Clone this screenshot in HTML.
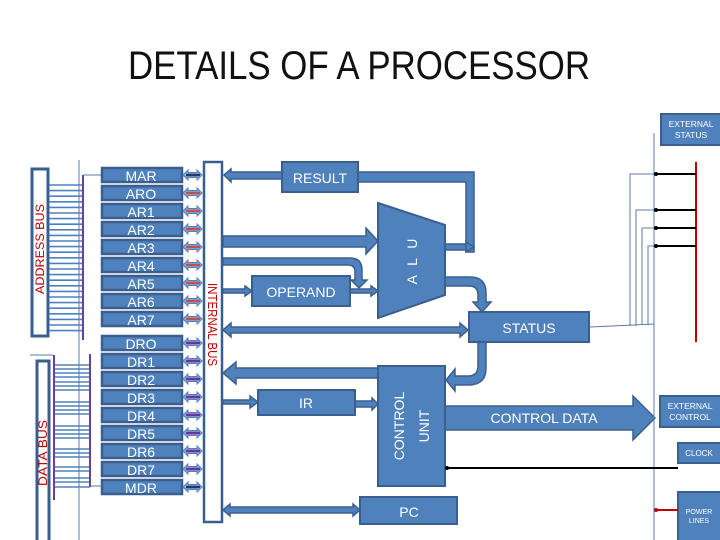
<!DOCTYPE html>
<html><head><meta charset="utf-8"><style>
html,body{margin:0;padding:0;background:#fff;}
svg{display:block;}
text{font-family:"Liberation Sans",sans-serif;}
</style></head><body>
<svg width="720" height="540" viewBox="0 0 720 540" xmlns="http://www.w3.org/2000/svg">
<defs>
<g id="dbl">
<polygon points="0,0 5,-5 5,-2.5 14,-2.5 14,-5 19,0 14,5 14,2.5 5,2.5 5,5" fill="#8FA9D0" stroke="#4F81BD" stroke-width="1"/>
</g>
</defs>
<rect width="720" height="540" fill="#fff"/>
<text x="128" y="79" font-size="40" fill="#111" textLength="462" lengthAdjust="spacingAndGlyphs">DETAILS OF A PROCESSOR</text>

<!-- thin vertical line left -->
<line x1="79" y1="160" x2="79" y2="540" stroke="#5A7CA8" stroke-width="1"/>

<!-- ADDRESS BUS -->
<rect x="32" y="169" width="16" height="167" fill="#fff" stroke="#3A5F8E" stroke-width="3"/>
<text transform="translate(44,294) rotate(-90)" font-size="12" fill="#C00000" textLength="90" lengthAdjust="spacingAndGlyphs">ADDRESS BUS</text>
<g stroke="#4F81BD" stroke-width="1.6">
<line x1="49" y1="185" x2="83" y2="185"/><line x1="49" y1="190.6" x2="83" y2="190.6"/><line x1="49" y1="196.2" x2="83" y2="196.2"/><line x1="49" y1="201.8" x2="83" y2="201.8"/><line x1="49" y1="207.4" x2="83" y2="207.4"/><line x1="49" y1="213" x2="83" y2="213"/><line x1="49" y1="218.6" x2="83" y2="218.6"/><line x1="49" y1="224.2" x2="83" y2="224.2"/><line x1="49" y1="229.8" x2="83" y2="229.8"/><line x1="49" y1="235.4" x2="83" y2="235.4"/><line x1="49" y1="241" x2="83" y2="241"/><line x1="49" y1="246.6" x2="83" y2="246.6"/><line x1="49" y1="252.2" x2="83" y2="252.2"/><line x1="49" y1="257.8" x2="83" y2="257.8"/><line x1="49" y1="263.4" x2="83" y2="263.4"/><line x1="49" y1="269" x2="83" y2="269"/><line x1="49" y1="274.6" x2="83" y2="274.6"/><line x1="49" y1="280.2" x2="83" y2="280.2"/><line x1="49" y1="285.8" x2="83" y2="285.8"/><line x1="49" y1="291.4" x2="83" y2="291.4"/><line x1="49" y1="297" x2="83" y2="297"/><line x1="49" y1="302.6" x2="83" y2="302.6"/><line x1="49" y1="308.2" x2="83" y2="308.2"/><line x1="49" y1="313.8" x2="83" y2="313.8"/><line x1="49" y1="319.4" x2="83" y2="319.4"/><line x1="49" y1="325" x2="83" y2="325"/><line x1="49" y1="330.6" x2="83" y2="330.6"/>
</g>
<line x1="83" y1="175" x2="83" y2="340" stroke="#6A3FA0" stroke-width="2"/>
<line x1="83" y1="175" x2="101" y2="175" stroke="#5A7CA8" stroke-width="1"/>

<!-- DATA BUS -->
<path d="M30,355 H53" stroke="#5A7CA8" stroke-width="1" fill="none"/>
<rect x="37" y="361" width="12" height="185" fill="#fff" stroke="#3A5F8E" stroke-width="3"/>
<text transform="translate(47,486) rotate(-90)" font-size="12" fill="#C00000" textLength="66" lengthAdjust="spacingAndGlyphs">DATA BUS</text>
<g stroke="#4F81BD" stroke-width="1.6">
<line x1="54" y1="365" x2="90" y2="365"/><line x1="54" y1="369" x2="90" y2="369"/><line x1="54" y1="373" x2="90" y2="373"/><line x1="54" y1="377" x2="90" y2="377"/><line x1="54" y1="382" x2="90" y2="382"/><line x1="54" y1="386" x2="90" y2="386"/><line x1="54" y1="390" x2="90" y2="390"/>
<line x1="54" y1="402" x2="90" y2="402"/><line x1="54" y1="406" x2="90" y2="406"/><line x1="54" y1="410" x2="90" y2="410"/><line x1="54" y1="414" x2="90" y2="414"/>
<line x1="54" y1="426" x2="90" y2="426"/><line x1="54" y1="430" x2="90" y2="430"/><line x1="54" y1="434" x2="90" y2="434"/><line x1="54" y1="438" x2="90" y2="438"/>
<line x1="54" y1="449" x2="90" y2="449"/><line x1="54" y1="453" x2="90" y2="453"/><line x1="54" y1="457" x2="90" y2="457"/>
<line x1="54" y1="467" x2="90" y2="467"/><line x1="54" y1="471" x2="90" y2="471"/>
<line x1="54" y1="478" x2="90" y2="478"/><line x1="54" y1="482" x2="90" y2="482"/><line x1="54" y1="487" x2="90" y2="487"/>
</g>
<line x1="54" y1="355" x2="54" y2="500" stroke="#6A3FA0" stroke-width="2"/>
<line x1="90" y1="354" x2="90" y2="487" stroke="#6A3FA0" stroke-width="2"/>
<line x1="90" y1="486" x2="101" y2="486" stroke="#5A7CA8" stroke-width="1"/>

<!-- registers -->
<g fill="#4F81BD" stroke="#3A5F8E" stroke-width="2.5">
<rect x="102" y="168" width="80" height="14"/><rect x="102" y="186" width="80" height="14"/><rect x="102" y="204" width="80" height="14"/><rect x="102" y="222" width="80" height="14"/><rect x="102" y="240" width="80" height="14"/><rect x="102" y="258" width="80" height="14"/><rect x="102" y="276" width="80" height="14"/><rect x="102" y="294" width="80" height="14"/><rect x="102" y="312" width="80" height="14"/>
<rect x="102" y="336" width="80" height="14"/><rect x="102" y="354" width="80" height="14"/><rect x="102" y="372" width="80" height="14"/><rect x="102" y="390" width="80" height="14"/><rect x="102" y="408" width="80" height="14"/><rect x="102" y="426" width="80" height="14"/><rect x="102" y="444" width="80" height="14"/><rect x="102" y="462" width="80" height="14"/><rect x="102" y="480" width="80" height="14"/>
</g>
<g fill="#fff" font-size="14" text-anchor="middle">
<text x="141" y="181">MAR</text><text x="141" y="199">ARO</text><text x="141" y="217">AR1</text><text x="141" y="235">AR2</text><text x="141" y="253">AR3</text><text x="141" y="271">AR4</text><text x="141" y="289">AR5</text><text x="141" y="307">AR6</text><text x="141" y="325">AR7</text>
<text x="141" y="349">DRO</text><text x="141" y="367">DR1</text><text x="141" y="385">DR2</text><text x="141" y="403">DR3</text><text x="141" y="421">DR4</text><text x="141" y="439">DR5</text><text x="141" y="457">DR6</text><text x="141" y="475">DR7</text><text x="141" y="493">MDR</text>
</g>
<!-- small double arrows -->
<g>
<use href="#dbl" x="183" y="175"/><use href="#dbl" x="183" y="193"/><use href="#dbl" x="183" y="211"/><use href="#dbl" x="183" y="229"/><use href="#dbl" x="183" y="247"/><use href="#dbl" x="183" y="265"/><use href="#dbl" x="183" y="283"/><use href="#dbl" x="183" y="301"/><use href="#dbl" x="183" y="319"/>
<use href="#dbl" x="183" y="343"/><use href="#dbl" x="183" y="361"/><use href="#dbl" x="183" y="379"/><use href="#dbl" x="183" y="397"/><use href="#dbl" x="183" y="415"/><use href="#dbl" x="183" y="433"/><use href="#dbl" x="183" y="451"/><use href="#dbl" x="183" y="469"/><use href="#dbl" x="183" y="487"/>
</g>
<g stroke-width="2.5">
<line x1="186" y1="175" x2="200" y2="175" stroke="#1F3A6E"/>
<g stroke="#C0504D"><line x1="186" y1="193" x2="200" y2="193"/><line x1="186" y1="211" x2="200" y2="211"/><line x1="186" y1="229" x2="200" y2="229"/><line x1="186" y1="247" x2="200" y2="247"/><line x1="186" y1="265" x2="200" y2="265"/><line x1="186" y1="283" x2="200" y2="283"/><line x1="186" y1="301" x2="200" y2="301"/><line x1="186" y1="319" x2="200" y2="319"/></g>
<g stroke="#7030A0"><line x1="186" y1="343" x2="200" y2="343"/><line x1="186" y1="361" x2="200" y2="361"/><line x1="186" y1="379" x2="200" y2="379"/><line x1="186" y1="397" x2="200" y2="397"/><line x1="186" y1="415" x2="200" y2="415"/><line x1="186" y1="433" x2="200" y2="433"/><line x1="186" y1="451" x2="200" y2="451"/><line x1="186" y1="469" x2="200" y2="469"/></g>
<line x1="186" y1="487" x2="200" y2="487" stroke="#1F3A6E"/>
</g>

<!-- INTERNAL BUS -->
<rect x="204" y="162" width="18" height="360" fill="#fff" stroke="#3A5F8E" stroke-width="2.5"/>
<text transform="translate(208,283) rotate(90)" font-size="13" fill="#C00000" textLength="83" lengthAdjust="spacingAndGlyphs">INTERNAL BUS</text>

<!-- connectors blue -->
<g fill="#4F81BD" stroke="#3A5F8E" stroke-width="1.5">
<!-- RESULT -> bus -->
<polygon points="224,175 231,169 231,172 283,172 283,179 231,179 231,182"/>
<!-- bus -> ALU -->
<polygon points="223,236 366,236 366,228 378,241 366,254 366,247 223,247"/>
<!-- bus -> curve -> operand -->
<path d="M223,258 H350 Q362,258 362,270 V280 H367 L359,288 L351,280 H355 V272 Q355,265 348,265 H223 Z"/>
<!-- bus -> operand thin -->
<polygon points="223,289 245,289 245,286 252,291 245,296 245,293 223,293"/>
<!-- operand -> ALU -->
<polygon points="350,289 371,289 371,286 378,291 371,296 371,293 350,293"/>
<!-- ALU out -> up -> result -->
<polygon points="445,244 466,244 466,182 296,182 296,185 289,177 296,169 296,172 474,172 474,252 466,252 466,250 445,250"/>
<polygon points="466,242 474,247 466,252"/>
<!-- ALU -> STATUS curve -->
<path d="M445,277 H470 Q486,277 486,293 V302 H491 L482,312 L473,302 H478 V295 Q478,286 469,286 H445 Z"/>
<!-- bus <-> STATUS -->
<polygon points="223,330 231,323 231,327 460,327 460,323 468,330 460,337 460,333 231,333 231,337"/>
<!-- STATUS -> CU curve -->
<path d="M478,342 H486 V368 Q486,385 468,385 H455 V391 L446,380 L455,369 V376 H468 Q478,376 478,366 Z"/>
<!-- CU -> bus -->
<polygon points="378,368 378,378 236,378 236,384 223,373 236,362 236,368"/>
<!-- bus -> IR -->
<polygon points="223,400 250,400 250,396 258,402 250,408 250,404 223,404"/>
<!-- IR -> CU -->
<polygon points="355,401 372,401 372,398 378,404 372,410 372,407 355,407"/>
<!-- bus <-> PC -->
<polygon points="223,510 230,504 230,507 353,507 353,504 360,510 353,516 353,513 230,513 230,516"/>
<!-- CONTROL DATA arrow -->
<polygon points="445,406 633,406 633,396 655,418 633,440 633,430 445,430"/>
</g>

<!-- boxes -->
<g fill="#4F81BD" stroke="#3A5F8E" stroke-width="2">
<rect x="282" y="162" width="76" height="30"/>
<polygon points="378,203 445,225 445,295 378,318"/>
<rect x="252" y="276" width="98" height="30"/>
<rect x="469" y="312" width="120" height="30"/>
<rect x="378" y="366" width="67" height="120"/>
<rect x="258" y="390" width="97" height="25"/>
<rect x="360" y="497" width="97" height="27"/>
<rect x="661" y="114" width="60" height="31"/>
<rect x="660" y="396" width="61" height="31"/>
<rect x="678" y="443" width="43" height="20"/>
<rect x="678" y="492" width="43" height="50"/>
</g>
<g fill="#fff" text-anchor="middle">
<text x="320" y="183" font-size="14">RESULT</text>
<text transform="translate(417,260) rotate(-90)" font-size="14" letter-spacing="3">A L U</text>
<text x="301" y="297" font-size="14">OPERAND</text>
<text x="529" y="333" font-size="14">STATUS</text>
<text transform="translate(404,426) rotate(-90)" font-size="14">CONTROL</text>
<text transform="translate(429,426) rotate(-90)" font-size="14">UNIT</text>
<text x="306" y="408" font-size="14">IR</text>
<text x="409" y="517" font-size="14">PC</text>
<text x="544" y="423" font-size="14">CONTROL DATA</text>
<text x="691" y="127" font-size="8.5">EXTERNAL</text>
<text x="691" y="138" font-size="8.5">STATUS</text>
<text x="690" y="409" font-size="8.5">EXTERNAL</text>
<text x="690" y="420" font-size="8.5">CONTROL</text>
<text x="699" y="456" font-size="8">CLOCK</text>
<text x="699" y="514" font-size="7">POWER</text>
<text x="699" y="523" font-size="7">LINES</text>
</g>

<!-- right side lines -->
<line x1="654" y1="133" x2="654" y2="540" stroke="#5A7CA8" stroke-width="1"/>
<line x1="696" y1="162" x2="696" y2="342" stroke="#C00000" stroke-width="2"/>
<g stroke="#000" stroke-width="2">
<line x1="655" y1="174" x2="696" y2="174"/><line x1="655" y1="210" x2="696" y2="210"/><line x1="655" y1="228" x2="696" y2="228"/><line x1="655" y1="246" x2="696" y2="246"/>
</g>
<g fill="#000"><circle cx="656" cy="174" r="2"/><circle cx="656" cy="210" r="2"/><circle cx="656" cy="228" r="2"/><circle cx="656" cy="246" r="2"/></g>
<g stroke="#5A7CA8" stroke-width="1" fill="none">
<path d="M590,327 L654,324"/>
<path d="M630,326 V174 H654"/><path d="M636,326 V210 H654"/><path d="M642,325 V228 H654"/><path d="M648,325 V246 H654"/>
</g>
<line x1="446" y1="468" x2="678" y2="468" stroke="#000" stroke-width="2"/>
<circle cx="447" cy="468" r="2" fill="#000"/>
<line x1="655" y1="510" x2="678" y2="510" stroke="#C00000" stroke-width="2"/>
<circle cx="656" cy="510" r="2" fill="#C00000"/>
</svg>
</body></html>
